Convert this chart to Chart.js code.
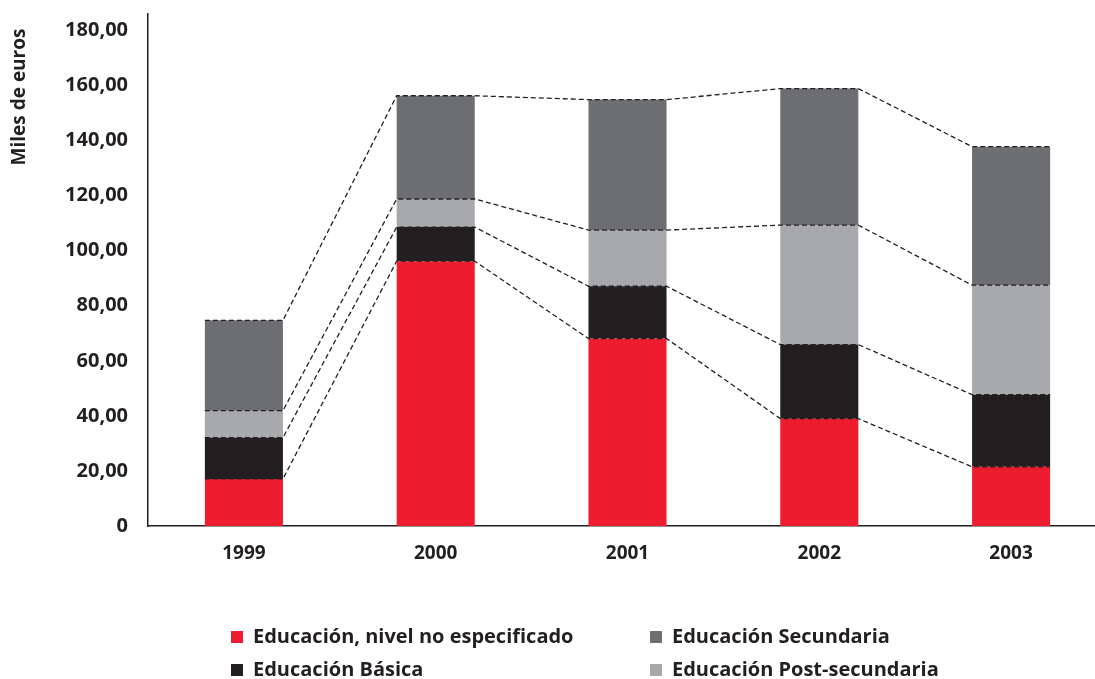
<!DOCTYPE html>
<html>
<head>
<meta charset="utf-8">
<script src="https://cdn.jsdelivr.net/npm/chart.js@4/dist/chart.umd.min.js"></script>
<style>
  html, body { margin: 0; padding: 0; background: #fff; overflow: hidden; }
  #wrap { width: 1107px; height: 679px; }
</style>
</head>
<body>
<div id="wrap"><canvas id="myChart" width="1107" height="679"></canvas></div>
<script>
// years on the x axis
var years = ['1999', '2000', '2001', '2002', '2003'];
// values in miles de euros (stacked bottom to top)
var noEspecificado = [17.1, 96.2, 68.1, 39.0, 21.5];
var basica = [15.0, 12.4, 19.0, 26.9, 26.2];
var postSecundaria = [9.8, 10.2, 20.4, 43.4, 39.8];
var secundaria = [32.8, 37.5, 47.4, 49.6, 50.3];
var seriesNames = ['Educación, nivel no especificado', 'Educación Básica', 'Educación Post-secundaria', 'Educación Secundaria'];
var seriesColors = ['#ed1c2e', '#231f20', '#a7a9ac', '#6d6e71'];

var DARK = '#231f20';
var FONT = "'Open Sans', 'DejaVu Sans', sans-serif";

// dashed lines joining the tops of every segment from one bar to the next
var connectors = {
  id: 'connectors',
  afterDatasetsDraw: function(chart) {
    var ctx = chart.ctx;
    ctx.save();
    ctx.strokeStyle = DARK;
    ctx.lineWidth = 1.3;
    ctx.setLineDash([5, 3]);
    chart.data.datasets.forEach(function(ds, d) {
      var bars = chart.getDatasetMeta(d).data;
      ctx.beginPath();
      for (var j = 0; j < bars.length; j++) {
        var p = bars[j].getProps(['x', 'y', 'width'], true);
        if (j == 0) ctx.moveTo(p.x - p.width / 2, p.y);
        else ctx.lineTo(p.x - p.width / 2, p.y);
        ctx.lineTo(p.x + p.width / 2, p.y);
      }
      ctx.stroke();
    });
    ctx.restore();
  }
};

// y title at the top of the axis and the two-column legend underneath
var extras = {
  id: 'extras',
  afterDraw: function(chart) {
    var ctx = chart.ctx;
    ctx.save();
    ctx.fillStyle = DARK;
    ctx.font = "bold 19px " + FONT;
    ctx.translate(20, 97);
    ctx.rotate(-Math.PI / 2);
    ctx.textAlign = 'center';
    ctx.textBaseline = 'middle';
    ctx.fillText('Miles de euros', 0, 0);
    ctx.restore();

    // legend order: row 1 = no especificado, Secundaria; row 2 = Básica, Post-secundaria
    var order = [0, 3, 1, 2];
    var cols = [231, 650];
    var rows = [637, 670];
    ctx.save();
    ctx.font = "bold 20px " + FONT;
    ctx.textBaseline = 'middle';
    ctx.textAlign = 'left';
    for (var k = 0; k < order.length; k++) {
      var i = order[k];
      var x = cols[k % 2], y = rows[Math.floor(k / 2)];
      ctx.fillStyle = seriesColors[i];
      ctx.fillRect(x, y - 6, 12, 12);
      ctx.fillStyle = DARK;
      ctx.fillText(seriesNames[i], x + 22, y);
    }
    ctx.restore();
  }
};

var seriesData = [noEspecificado, basica, postSecundaria, secundaria];
var datasets = seriesData.map(function(vals, i) {
  return {
    label: seriesNames[i],
    data: vals,
    backgroundColor: seriesColors[i],
    borderWidth: 0,
    barPercentage: 0.407,
    categoryPercentage: 1.0
  };
});

var config = {
  type: 'bar',
  data: { labels: years, datasets: datasets },
  options: {
    responsive: false,
    animation: false,
    layout: { padding: { top: 14, left: 0, right: 0, bottom: 0 } },
    plugins: {
      legend: { display: false },
      tooltip: { enabled: false }
    },
    scales: {
      x: {
        stacked: true,
        grid: { display: false, drawTicks: false },
        border: { display: true, color: DARK, width: 1.5 },
        ticks: { color: DARK, font: { family: FONT, size: 19, weight: 'bold' }, padding: 16 },
        afterFit: function(scale) { scale.height = 153; scale.paddingLeft = 0; scale.paddingRight = 0; }
      },
      y: {
        stacked: true,
        min: 0,
        max: 186,
        grid: { display: false, drawTicks: false },
        border: { display: true, color: DARK, width: 1.5 },
        ticks: {
          stepSize: 20,
          includeBounds: false,
          color: DARK,
          padding: 20,
          font: { family: FONT, size: 20, weight: 'bold' },
          callback: function(v) { return v == 0 ? '0' : v.toFixed(2).replace('.', ','); }
        },
        afterFit: function(scale) { scale.width = 148; scale.paddingTop = 0; scale.paddingBottom = 0; }
      }
    }
  },
  plugins: [connectors, extras]
};

var myChart = new Chart(document.getElementById('myChart'), config);
</script>
</body>
</html>
